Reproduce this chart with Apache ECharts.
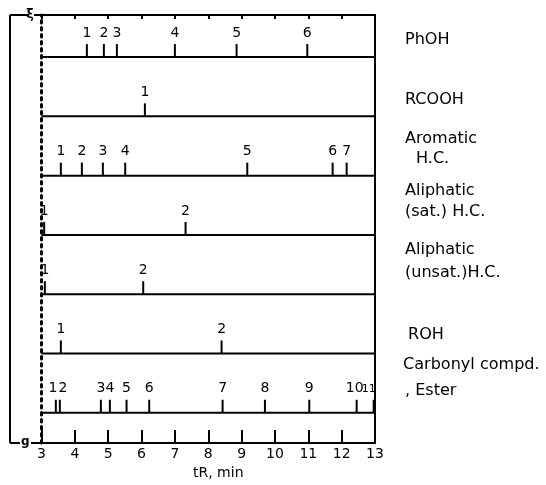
<!DOCTYPE html>
<html><head><meta charset="utf-8">
<script src="https://cdn.jsdelivr.net/npm/echarts@6/dist/echarts.min.js"></script>
<style>html,body{margin:0;padding:0;background:#fff}#c{width:546px;height:485px}</style>
</head><body><div id="c"></div>
<script>
// ---- data ----
const xTicks = [3, 4, 5, 6, 7, 8, 9, 10, 11, 12, 13];
const axisName = 'tR, min';
const rowNames = [
  ['PhOH'],
  ['RCOOH'],
  ['Aromatic', 'H.C.'],
  ['Aliphatic', '(sat.) H.C.'],
  ['Aliphatic', '(unsat.)H.C.'],
  ['ROH'],
  ['Carbonyl compd.', ', Ester']
];
const phoh      = [4.36, 4.87, 5.26, 7.00, 8.85, 10.97];
const rcooh     = [6.10];
const aromatic  = [3.58, 4.21, 4.84, 5.51, 9.17, 11.73, 12.15];
const aliphSat  = [3.08, 7.32];
const aliphUns  = [3.10, 6.05];
const roh       = [3.58, 8.40];
const carbonyl  = [3.43, 3.55, 4.78, 5.05, 5.55, 6.23, 8.43, 9.70, 11.03, 12.45, 12.96];
const rowPeaks = [phoh, rcooh, aromatic, aliphSat, aliphUns, roh, carbonyl];

// ---- layout (not data) ----
const labelDx = {'6-0': -3, '6-1': 3, '6-9': -2, '6-10': -5};
const labelFont = {'6-10': 11};
const rowLabelPos = [
  [[405, 40]],
  [[405, 100]],
  [[405, 139], [416, 159]],
  [[405, 191], [405, 212]],
  [[405, 250], [405, 273]],
  [[408, 335]],
  [[403, 365], [405, 391]]
];
const nRows = rowPeaks.length;
const peaks = [];
rowPeaks.forEach((arr, r) => arr.forEach((t, i) => {
  const key = r + '-' + i;
  peaks.push({t: t, y: nRows - 1 - r, label: String(i + 1), dx: labelDx[key] || 0, fs: labelFont[key] || 14});
}));
const baseRows = rowPeaks.map((_, r) => nRows - 1 - r);

const FONT = '"DejaVu Sans", sans-serif';
const chart = echarts.init(document.getElementById('c'), null, {renderer: 'canvas'});

const graphics = [];
rowNames.forEach((lines, r) => lines.forEach((txt, k) => {
  graphics.push({type: 'text', x: rowLabelPos[r][k][0], y: rowLabelPos[r][k][1], scaleX: 1.07,
    style: {text: txt, x: 0, y: 0, font: '15px ' + FONT, fill: '#000', verticalAlign: 'middle', align: 'left'}});
}));
// left bracket
const blk = {stroke: '#000', lineWidth: 2};
graphics.push({type: 'line', shape: {x1: 10, y1: 15, x2: 10, y2: 443}, style: blk});
graphics.push({type: 'line', shape: {x1: 10, y1: 15, x2: 27, y2: 15}, style: blk});
graphics.push({type: 'line', shape: {x1: 10, y1: 443, x2: 20, y2: 443}, style: blk});
graphics.push({type: 'line', shape: {x1: 34, y1: 15, x2: 42, y2: 15}, style: blk});
graphics.push({type: 'line', shape: {x1: 31, y1: 443, x2: 42, y2: 443}, style: blk});
graphics.push({type: 'text', x: 26, y: 8, style: {text: 'ξ', x: 0, y: 0, font: 'bold 13px ' + FONT, fill: '#000'}});
graphics.push({type: 'text', x: 21, y: 436, style: {text: 'g', x: 0, y: 0, font: 'bold 12px ' + FONT, fill: '#000'}});

chart.setOption({
  animation: false,
  backgroundColor: '#fff',
  grid: {left: 41.5, right: 171, top: 15, bottom: 42},
  xAxis: [
    {type: 'value', min: xTicks[0], max: xTicks[xTicks.length - 1], interval: 1, position: 'bottom',
      name: axisName, nameLocation: 'middle', nameGap: 23,
      nameTextStyle: {fontFamily: FONT, fontSize: 14, color: '#000', padding: [0, 0, 0, 20], verticalAlign: 'top'},
      axisLine: {show: true, onZero: false, lineStyle: {color: '#000', width: 2}},
      axisTick: {show: true, inside: true, length: 13, lineStyle: {color: '#000', width: 2}},
      axisLabel: {fontFamily: FONT, fontSize: 14, color: '#000', margin: 4,
        formatter: v => xTicks.indexOf(v) >= 0 ? String(v) : ''},
      splitLine: {show: false}},
    {type: 'value', min: xTicks[0], max: xTicks[xTicks.length - 1], interval: 1, position: 'top',
      axisLine: {show: true, onZero: false, lineStyle: {color: '#000', width: 2}},
      axisTick: {show: true, inside: true, length: 4, lineStyle: {color: '#000', width: 2}},
      axisLabel: {show: false}, splitLine: {show: false}}
  ],
  yAxis: [
    {type: 'value', min: -0.51, max: 6.71, position: 'left',
      axisLine: {show: true, onZero: false, lineStyle: {color: '#000', width: 3, type: [2.5, 4.5]}},
      axisTick: {show: false}, axisLabel: {show: false}, splitLine: {show: false}},
    {type: 'value', min: -0.51, max: 6.71, position: 'right',
      axisLine: {show: true, onZero: false, lineStyle: {color: '#000', width: 2}},
      axisTick: {show: false}, axisLabel: {show: false}, splitLine: {show: false}}
  ],
  graphic: graphics,
  series: [
    {type: 'custom', name: 'baselines', clip: false, silent: true,
      data: baseRows.map(y => [xTicks[0], y]),
      encode: {x: 0, y: 1},
      renderItem: (params, api) => {
        const y = api.value(1);
        const a = api.coord([xTicks[0], y]);
        const b = api.coord([xTicks[xTicks.length - 1], y]);
        return {type: 'line', shape: {x1: a[0], y1: a[1], x2: b[0], y2: b[1]},
          style: {stroke: '#000', lineWidth: 2}};
      }},
    {type: 'custom', name: 'peaks', clip: false, silent: true,
      data: peaks.map(p => [p.t, p.y]),
      encode: {x: 0, y: 1},
      renderItem: (params, api) => {
        const pk = peaks[params.dataIndex];
        const p = api.coord([api.value(0), api.value(1)]);
        return {type: 'group', children: [
          {type: 'line', shape: {x1: p[0], y1: p[1], x2: p[0], y2: p[1] - 13},
            style: {stroke: '#000', lineWidth: 2}},
          {type: 'text', style: {text: pk.label, x: p[0] + pk.dx, y: p[1] - 24,
            align: 'center', verticalAlign: 'middle', font: pk.fs + 'px ' + FONT, fill: '#000'}}
        ]};
      }}
  ]
});
</script></body></html>
